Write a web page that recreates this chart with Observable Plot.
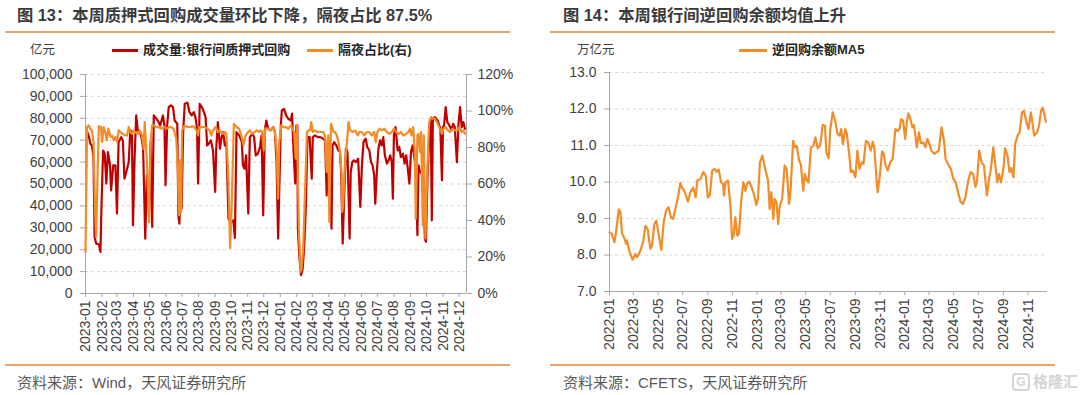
<!DOCTYPE html>
<html><head><meta charset="utf-8">
<script src="https://cdn.jsdelivr.net/npm/d3@7"></script>
<script src="https://cdn.jsdelivr.net/npm/@observablehq/plot@0.6"></script>
<style>
body{margin:0;background:#fff;font-family:"Liberation Sans","Noto Sans CJK SC",sans-serif;}
#wrap{position:relative;width:1080px;height:395px;overflow:hidden;background:#fff;}
.title{position:absolute;top:5px;line-height:20px;font-size:16.3px;font-weight:bold;color:#3b3b3b;white-space:nowrap;}
.rule{position:absolute;height:2px;background:#e6a56c;}
.unit{position:absolute;top:41px;line-height:18px;font-size:12.5px;color:#404040;white-space:nowrap;}
.legend{position:absolute;top:41px;line-height:18px;font-size:13px;font-weight:bold;color:#262626;white-space:nowrap;display:flex;align-items:center;}
.sw{display:inline-block;width:26px;height:3px;margin-right:5px;}
.src{position:absolute;top:374px;line-height:18px;font-size:15px;color:#595959;white-space:nowrap;}
.chart{position:absolute;top:40px;}
.wm{position:absolute;top:373px;left:1012px;font-size:15px;line-height:18px;color:#d4d4d4;font-weight:bold;white-space:nowrap;display:flex;align-items:center;}
.wm b{display:inline-block;border:2px solid #d4d4d4;border-radius:4px;width:14px;height:14px;line-height:14px;text-align:center;font-size:12px;margin-right:3px;}
</style></head>
<body><div id="wrap">
<div class="title" style="left:17px">图 13：本周质押式回购成交量环比下降，隔夜占比 87.5%</div>
<div class="rule" style="left:5px;width:505px;top:31px"></div>
<div class="unit" style="left:30px">亿元</div>
<div class="legend" style="left:112px"><span class="sw" style="background:#c00000"></span>成交量:银行间质押式回购</div>
<div class="legend" style="left:307px"><span class="sw" style="background:#f28c28"></span>隔夜占比(右)</div>
<div class="chart" id="left" style="left:0px"></div>
<div class="rule" style="left:5px;width:505px;top:364px"></div>
<div class="src" style="left:17px">资料来源：Wind，天风证券研究所</div>

<div class="title" style="left:563px">图 14：本周银行间逆回购余额均值上升</div>
<div class="rule" style="left:550px;width:505px;top:31px"></div>
<div class="unit" style="left:577px">万亿元</div>
<div class="legend" style="left:739px"><span class="sw" style="background:#f28c28;width:28px"></span>逆回购余额MA5</div>
<div class="chart" id="right" style="left:540px"></div>
<div class="rule" style="left:550px;width:505px;top:364px"></div>
<div class="src" style="left:563px">资料来源：CFETS，天风证券研究所</div>
<div class="wm"><b>G</b>格隆汇</div>
</div>
<script>
// ---- Left chart data ----
const leftTicks = [0,10000,20000,30000,40000,50000,60000,70000,80000,90000,100000];
const rightPctTicks = [0,20,40,60,80,100,120];
const leftMonths = ["2023-01","2023-02","2023-03","2023-04","2023-05","2023-06","2023-07","2023-08","2023-09","2023-10","2023-11","2023-12","2024-01","2024-02","2024-03","2024-04","2024-05","2024-06","2024-07","2024-08","2024-09","2024-10","2024-11","2024-12"];
const leftRange = ["2023-01-01","2024-12-15"];

const volume = [
["2023-01-04",73700],["2023-01-07",72200],["2023-01-10",68400],["2023-01-13",67600],["2023-01-16",62300],["2023-01-18",25800],["2023-01-21",22800],["2023-01-26",22500],["2023-01-29",19000],["2023-01-31",40000],
["2023-02-03",65300],["2023-02-06",63800],["2023-02-09",50200],["2023-02-12",64600],["2023-02-16",58500],["2023-02-18",47100],["2023-02-22",58500],["2023-02-26",58500],["2023-03-01",36500],["2023-03-04",69100],
["2023-03-09",71400],["2023-03-12",69900],["2023-03-15",52400],["2023-03-20",57000],["2023-03-23",60000],["2023-03-26",74500],["2023-03-29",73700],["2023-03-31",31200],["2023-04-03",61600],["2023-04-06",81300],
["2023-04-09",74500],["2023-04-13",73700],["2023-04-16",71400],["2023-04-19",66100],["2023-04-23",25000],["2023-04-26",54000],["2023-04-30",36500],["2023-05-03",69100],["2023-05-06",30400],["2023-05-09",81300],
["2023-05-14",79800],["2023-05-18",78300],["2023-05-21",76700],["2023-05-26",81300],["2023-05-29",76700],["2023-05-31",49400],["2023-06-03",76700],["2023-06-06",85100],["2023-06-10",85900],["2023-06-14",85100],
["2023-06-17",79000],["2023-06-22",77500],["2023-06-24",35700],["2023-06-26",31900],["2023-06-28",60000],["2023-06-30",38800],["2023-07-03",73700],["2023-07-06",86600],["2023-07-11",87100],["2023-07-15",82800],
["2023-07-19",81300],["2023-07-23",82800],["2023-07-26",80500],["2023-07-29",75200],["2023-07-31",50200],["2023-08-03",86600],["2023-08-07",85100],["2023-08-11",82800],["2023-08-14",80500],["2023-08-17",67600],
["2023-08-20",68400],["2023-08-24",69900],["2023-08-28",65300],["2023-09-01",46400],["2023-09-03",66100],["2023-09-06",78300],["2023-09-10",66100],["2023-09-13",71400],["2023-09-16",73700],["2023-09-19",67600],
["2023-09-22",69100],["2023-09-26",34200],["2023-09-30",32700],["2023-10-05",33400],["2023-10-08",25400],["2023-10-11",73700],["2023-10-16",72200],["2023-10-21",69100],["2023-10-23",58500],["2023-10-26",57000],
["2023-10-29",63100],["2023-11-02",36500],["2023-11-05",71400],["2023-11-10",72900],["2023-11-13",71400],["2023-11-16",63100],["2023-11-20",63800],["2023-11-24",66900],["2023-11-27",72200],["2023-11-30",35700],
["2023-12-03",74500],["2023-12-06",79000],["2023-12-09",75200],["2023-12-14",74500],["2023-12-19",76000],["2023-12-22",73700],["2023-12-25",60000],["2023-12-28",25100],["2024-01-02",76700],["2024-01-04",83600],
["2024-01-08",84300],["2024-01-12",81300],["2024-01-16",79800],["2024-01-21",79000],["2024-01-23",82100],["2024-01-26",64600],["2024-01-29",50200],["2024-01-31",76700],["2024-02-02",76700],["2024-02-03",29600],
["2024-02-06",16000],["2024-02-09",8400],["2024-02-12",11400],["2024-02-15",22000],["2024-02-18",40300],["2024-02-21",71400],["2024-02-25",71400],["2024-02-29",52400],["2024-03-02",71400],["2024-03-06",72200],
["2024-03-11",71400],["2024-03-16",71400],["2024-03-21",70700],["2024-03-25",69900],["2024-03-28",44800],["2024-03-31",69900],["2024-04-03",66100],["2024-04-06",29600],["2024-04-08",67600],["2024-04-11",69100],
["2024-04-15",67600],["2024-04-19",65300],["2024-04-22",64600],["2024-04-24",55500],["2024-04-27",22800],["2024-04-30",46400],["2024-05-03",66100],["2024-05-06",64600],["2024-05-10",25100],["2024-05-12",55500],
["2024-05-15",60000],["2024-05-18",60800],["2024-05-22",60000],["2024-05-26",61600],["2024-05-30",39500],["2024-06-02",58500],["2024-06-05",69100],["2024-06-09",70700],["2024-06-12",66900],["2024-06-16",65300],
["2024-06-19",60000],["2024-06-22",58500],["2024-06-25",54000],["2024-06-27",41000],["2024-06-30",55500],["2024-07-03",66100],["2024-07-06",69900],["2024-07-09",67600],["2024-07-12",71400],["2024-07-15",63100],
["2024-07-19",59300],["2024-07-22",60800],["2024-07-25",63100],["2024-07-28",60000],["2024-07-30",43300],["2024-08-01",72200],["2024-08-04",76000],["2024-08-08",65300],["2024-08-11",66900],["2024-08-14",62300],
["2024-08-18",63800],["2024-08-21",59300],["2024-08-24",63100],["2024-08-27",57000],["2024-08-30",50200],["2024-09-02",64600],["2024-09-05",67600],["2024-09-09",60800],["2024-09-11",55500],["2024-09-14",26600],
["2024-09-16",58500],["2024-09-19",55500],["2024-09-22",54700],["2024-09-25",54000],["2024-09-28",25100],["2024-09-30",23600],["2024-10-03",54000],["2024-10-06",70700],["2024-10-09",79800],["2024-10-11",33400],
["2024-10-13",79800],["2024-10-17",80500],["2024-10-22",79000],["2024-10-27",75200],["2024-10-30",51700],["2024-11-01",76000],["2024-11-03",76700],["2024-11-06",85100],["2024-11-09",78300],["2024-11-13",76700],
["2024-11-17",74500],["2024-11-20",77500],["2024-11-23",76000],["2024-11-27",60000],["2024-11-30",77500],["2024-12-03",85100],["2024-12-06",76000],["2024-12-09",78300],["2024-12-12",75200]
];

const overnight = [
["2023-01-01",22.8],["2023-01-04",91.2],["2023-01-07",92.1],["2023-01-10",90.3],["2023-01-13",89.4],["2023-01-16",83],["2023-01-19",44.7],["2023-01-21",31],["2023-01-24",70],["2023-01-26",91.7],
["2023-01-30",91.2],["2023-02-01",83],["2023-02-04",91.2],["2023-02-07",88.5],["2023-02-10",83.9],["2023-02-13",90.3],["2023-02-17",85.7],["2023-02-20",86.6],["2023-02-23",83.9],["2023-02-26",85.7],
["2023-03-01",83],["2023-03-04",89.4],["2023-03-07",88.5],["2023-03-12",87.5],["2023-03-17",86.6],["2023-03-20",86.6],["2023-03-23",91.2],["2023-03-26",88.5],["2023-03-29",87.5],["2023-04-01",89.4],
["2023-04-04",88.5],["2023-04-09",87.5],["2023-04-13",89.4],["2023-04-17",86.6],["2023-04-20",79.3],["2023-04-22",93.9],["2023-04-25",77.5],["2023-04-26",73.9],["2023-04-30",39],["2023-05-03",83],
["2023-05-06",92.1],["2023-05-09",92.1],["2023-05-14",91.2],["2023-05-18",91.2],["2023-05-23",90.3],["2023-05-28",91.2],["2023-06-02",90.3],["2023-06-06",91.2],["2023-06-10",91.2],["2023-06-15",90.3],
["2023-06-20",84.8],["2023-06-23",68.4],["2023-06-25",42.9],["2023-06-27",72.9],["2023-06-29",44.7],["2023-07-01",89.4],["2023-07-06",92.1],["2023-07-11",91.2],["2023-07-16",91.2],["2023-07-20",91.7],
["2023-07-24",91.2],["2023-07-28",89.4],["2023-07-31",86.6],["2023-08-02",91.2],["2023-08-08",91.2],["2023-08-12",91.2],["2023-08-17",90.3],["2023-08-22",89.4],["2023-08-25",86.6],["2023-08-28",89.4],
["2023-09-02",91.2],["2023-09-06",88.5],["2023-09-10",89.4],["2023-09-14",87.5],["2023-09-19",88.5],["2023-09-22",87.5],["2023-09-26",61.1],["2023-09-29",25],["2023-10-01",39.2],["2023-10-04",70.2],
["2023-10-06",93],["2023-10-11",91.2],["2023-10-16",90.3],["2023-10-20",86.6],["2023-10-24",81.2],["2023-10-28",86.6],["2023-11-02",88.5],["2023-11-05",89.4],["2023-11-10",87.5],["2023-11-14",88.5],
["2023-11-18",89.4],["2023-11-22",88.5],["2023-11-25",89.4],["2023-11-28",88.5],["2023-12-01",78.4],["2023-12-04",90.3],["2023-12-08",90.3],["2023-12-14",89.4],["2023-12-19",91.2],["2023-12-22",88.5],
["2023-12-25",79.3],["2023-12-28",52],["2023-12-30",83],["2024-01-03",92.1],["2024-01-07",91.2],["2024-01-11",91.2],["2024-01-16",90.3],["2024-01-21",92.1],["2024-01-24",90.3],["2024-01-27",88.5],
["2024-01-30",73.9],["2024-02-01",92.1],["2024-02-03",66.6],["2024-02-05",33.7],["2024-02-08",11.9],["2024-02-10",13.7],["2024-02-13",24.6],["2024-02-16",52],["2024-02-20",88.5],["2024-02-23",89.4],
["2024-02-26",89.4],["2024-02-28",93.9],["2024-03-02",88.5],["2024-03-06",89.4],["2024-03-11",88.5],["2024-03-16",88.5],["2024-03-21",88.5],["2024-03-25",86.6],["2024-03-28",66.6],["2024-03-31",86.6],
["2024-04-02",39.2],["2024-04-05",93],["2024-04-07",91.2],["2024-04-10",88.5],["2024-04-13",88.5],["2024-04-16",86.6],["2024-04-19",83],["2024-04-22",77.5],["2024-04-25",64.7],["2024-04-26",44.7],
["2024-04-28",48.3],["2024-05-01",70.2],["2024-05-03",75.7],["2024-05-06",86.6],["2024-05-08",93.9],["2024-05-11",89.4],["2024-05-16",88.5],["2024-05-20",89.4],["2024-05-25",86.6],["2024-05-28",88.5],
["2024-06-02",88.5],["2024-06-06",86.6],["2024-06-11",88.5],["2024-06-16",88.5],["2024-06-20",86.6],["2024-06-25",88.5],["2024-06-28",83],["2024-07-01",88.5],["2024-07-05",90.3],["2024-07-09",89.4],
["2024-07-14",90.3],["2024-07-19",88.5],["2024-07-24",87.5],["2024-07-28",88.5],["2024-08-01",90.3],["2024-08-05",88.5],["2024-08-10",87.5],["2024-08-14",88.5],["2024-08-19",86.6],["2024-08-24",87.5],
["2024-08-28",88.5],["2024-08-31",90.3],["2024-09-03",86.6],["2024-09-06",91.2],["2024-09-09",79.3],["2024-09-11",41],["2024-09-14",86.6],["2024-09-16",87.5],["2024-09-19",77.5],["2024-09-21",88.5],
["2024-09-24",37.4],["2024-09-26",86.6],["2024-09-29",30.1],["2024-10-01",52],["2024-10-04",79.3],["2024-10-06",93.9],["2024-10-10",96.7],["2024-10-13",95.8],["2024-10-17",95.8],["2024-10-22",93],
["2024-10-27",89.4],["2024-10-30",87.5],["2024-11-02",90.3],["2024-11-06",91.2],["2024-11-10",89.4],["2024-11-14",88.5],["2024-11-19",90.3],["2024-11-23",89.4],["2024-11-28",89.4],["2024-12-02",91.2],
["2024-12-06",88.5],["2024-12-09",89.4],["2024-12-12",87.5]
];

// ---- Right chart data ----
const repoTicks = [7,8,9,10,11,12,13];
const rightMonths = ["2022-01","2022-03","2022-05","2022-07","2022-09","2022-11","2023-01","2023-03","2023-05","2023-07","2023-09","2023-11","2024-01","2024-03","2024-05","2024-07","2024-09","2024-11"];
const rightRange = ["2022-01-01","2024-12-19"];
const repoMA5 = [
["2022-01-01",8.62],["2022-01-07",8.58],["2022-01-13",8.35],["2022-01-17",8.6],["2022-01-24",9.25],["2022-01-28",9.17],["2022-02-01",8.58],["2022-02-07",8.45],["2022-02-11",8.3],["2022-02-13",8.4],
["2022-02-20",8.08],["2022-02-27",7.87],["2022-03-06",8.03],["2022-03-10",7.94],["2022-03-17",8.08],["2022-03-25",8.35],["2022-03-31",8.8],["2022-04-05",8.72],["2022-04-12",8.17],["2022-04-16",8.26],
["2022-04-22",8.85],["2022-04-27",8.94],["2022-05-03",8.53],["2022-05-09",8.14],["2022-05-15",8.9],["2022-05-21",9.22],["2022-05-27",9.31],["2022-06-02",9.03],["2022-06-07",8.99],["2022-06-13",9.26],
["2022-06-20",9.63],["2022-06-25",9.97],["2022-06-29",9.85],["2022-07-05",9.76],["2022-07-14",9.46],["2022-07-20",9.72],["2022-07-27",9.85],["2022-08-02",9.58],["2022-08-06",10.04],["2022-08-14",10.08],
["2022-08-21",10.28],["2022-08-27",10.17],["2022-09-01",9.58],["2022-09-06",9.63],["2022-09-12",10.31],["2022-09-18",10.36],["2022-09-23",10.28],["2022-09-28",10.34],["2022-10-04",9.99],["2022-10-09",9.95],
["2022-10-11",9.63],["2022-10-15",9.99],["2022-10-21",10.04],["2022-10-27",9.35],["2022-10-31",8.44],["2022-11-04",8.53],["2022-11-08",9.03],["2022-11-13",8.53],["2022-11-17",8.58],["2022-11-23",9.54],
["2022-11-28",9.99],["2022-12-03",9.76],["2022-12-07",9.95],["2022-12-12",10.01],["2022-12-17",9.9],["2022-12-24",9.67],["2022-12-30",9.37],["2023-01-03",9.54],["2023-01-08",10.54],["2023-01-14",10.72],
["2023-01-19",10.45],["2023-01-23",10.27],["2023-01-28",10.04],["2023-02-01",9.26],["2023-02-05",9.72],["2023-02-10",8.99],["2023-02-13",9.54],["2023-02-18",9.44],["2023-02-22",8.85],["2023-02-26",9.35],
["2023-03-04",9.54],["2023-03-10",10.45],["2023-03-15",10.36],["2023-03-21",9.4],["2023-03-25",9.81],["2023-03-31",11.13],["2023-04-04",10.95],["2023-04-09",10.99],["2023-04-15",10.58],["2023-04-19",10.49],
["2023-04-25",9.76],["2023-04-29",10.22],["2023-05-04",10.04],["2023-05-08",9.99],["2023-05-14",10.95],["2023-05-20",10.99],["2023-05-25",11.22],["2023-05-31",10.92],["2023-06-06",11.01],["2023-06-12",11.56],
["2023-06-18",11.54],["2023-06-21",10.81],["2023-06-27",10.65],["2023-07-01",11.45],["2023-07-07",11.91],["2023-07-13",11.68],["2023-07-19",11.31],["2023-07-24",11.27],["2023-07-28",11.45],["2023-08-01",11.04],
["2023-08-07",11.45],["2023-08-11",11.31],["2023-08-17",10.72],["2023-08-21",10.27],["2023-08-26",10.31],["2023-09-01",10.13],["2023-09-06",10.86],["2023-09-11",10.36],["2023-09-17",10.54],["2023-09-21",10.49],
["2023-09-27",11.13],["2023-10-03",11.08],["2023-10-09",10.86],["2023-10-14",11.1],["2023-10-18",10.9],["2023-10-22",10.27],["2023-10-26",9.72],["2023-10-31",10.13],["2023-11-06",10.84],["2023-11-10",10.77],
["2023-11-15",10.45],["2023-11-20",10.31],["2023-11-26",10.54],["2023-12-02",10.63],["2023-12-09",11.45],["2023-12-14",11.4],["2023-12-19",11.45],["2023-12-23",11.72],["2023-12-28",11.68],["2024-01-02",11.18],
["2024-01-06",11.63],["2024-01-10",11.88],["2024-01-14",11.77],["2024-01-20",11.5],["2024-01-24",11.56],["2024-01-31",10.95],["2024-02-05",11.36],["2024-02-10",11.07],["2024-02-16",11.08],["2024-02-21",10.95],
["2024-02-26",11.18],["2024-03-01",11.08],["2024-03-07",10.86],["2024-03-14",10.77],["2024-03-19",10.81],["2024-03-25",10.86],["2024-04-01",11.5],["2024-04-07",11.13],["2024-04-11",10.63],["2024-04-17",10.49],
["2024-04-24",10.36],["2024-04-30",10.09],["2024-05-06",9.99],["2024-05-12",9.72],["2024-05-18",9.46],["2024-05-24",9.4],["2024-05-30",9.58],["2024-06-06",10.04],["2024-06-12",10.27],["2024-06-18",10.22],
["2024-06-24",9.86],["2024-06-28",10.04],["2024-07-03",10.86],["2024-07-09",10.54],["2024-07-15",10.45],["2024-07-22",9.63],["2024-07-27",10.04],["2024-08-01",10.36],["2024-08-07",10.95],["2024-08-13",10.36],
["2024-08-17",9.99],["2024-08-21",10.22],["2024-08-26",9.99],["2024-09-01",10.36],["2024-09-05",10.92],["2024-09-11",10.72],["2024-09-16",10.27],["2024-09-20",10.38],["2024-09-26",10.13],["2024-09-30",11.04],
["2024-10-06",11.27],["2024-10-11",11.36],["2024-10-17",11.91],["2024-10-22",11.95],["2024-10-27",11.68],["2024-11-02",11.45],["2024-11-08",11.91],["2024-11-12",11.59],["2024-11-16",11.27],["2024-11-23",11.36],
["2024-11-28",11.54],["2024-12-03",11.95],["2024-12-07",12.04],["2024-12-11",11.86],["2024-12-15",11.65]
];

// ---- Drawing ----
const RED = "#c00000", ORANGE = "#f28c28", AXIS = "#a6a6a6", GRID = "#d6d6d6", TXT = "#404040";
const font = {fontFamily: '"Liberation Sans", Arial, sans-serif', fontSize: "14px", color: TXT, background: "transparent", overflow: "visible"};
const toDate = s => new Date(s);
const pctToY = p => p / 120 * 100000;

const lx0 = toDate(leftRange[0]), lx1 = toDate(leftRange[1]);
const left = Plot.plot({
  width: 540, height: 320,
  marginTop: 34, marginBottom: 67, marginLeft: 85, marginRight: 74,
  style: font,
  x: {type: "utc", domain: [lx0, lx1]},
  y: {domain: [0, 100000]},
  marks: [
    Plot.gridY(leftTicks, {stroke: GRID, strokeOpacity: 1, strokeDasharray: "3,3"}),
    Plot.ruleY([0], {stroke: AXIS}),
    Plot.ruleX([lx0], {stroke: AXIS}),
    Plot.ruleX([lx1], {stroke: AXIS}),
    Plot.axisY(leftTicks, {anchor: "left", label: null, tickFormat: d3.format(","), tickSize: 5, tickPadding: 8, stroke: AXIS, fill: TXT}),
    Plot.axisY(rightPctTicks.map(pctToY), {anchor: "right", label: null, tickFormat: v => Math.round(v * 120 / 100000) + "%", tickSize: 5, tickPadding: 6, stroke: AXIS, fill: TXT}),
    Plot.axisX(leftMonths.map(toDate), {anchor: "bottom", label: null, tickRotate: -90, tickFormat: d3.utcFormat("%Y-%m"), tickSize: 4, tickPadding: 3, stroke: AXIS, fill: TXT}),
    Plot.lineY(volume, {x: d => toDate(d[0]), y: d => d[1], stroke: RED, strokeWidth: 2.2}),
    Plot.lineY(overnight, {x: d => toDate(d[0]), y: d => pctToY(d[1]), stroke: ORANGE, strokeWidth: 2.2})
  ]
});
document.getElementById("left").append(left);

const rx0 = toDate(rightRange[0]), rx1 = toDate(rightRange[1]);
const right = Plot.plot({
  width: 540, height: 320,
  marginTop: 32, marginBottom: 69, marginLeft: 69, marginRight: 33,
  style: font,
  x: {type: "utc", domain: [rx0, rx1]},
  y: {domain: [7, 13]},
  marks: [
    Plot.gridY(repoTicks, {stroke: GRID, strokeOpacity: 1, strokeDasharray: "3,3"}),
    Plot.ruleY([7], {stroke: AXIS}),
    Plot.ruleX([rx0], {stroke: AXIS}),
    Plot.axisY(repoTicks, {anchor: "left", label: null, tickFormat: d3.format(".1f"), tickSize: 5, tickPadding: 8, stroke: AXIS, fill: TXT}),
    Plot.axisX(rightMonths.map(toDate), {anchor: "bottom", label: null, tickRotate: -90, tickFormat: d3.utcFormat("%Y-%m"), tickSize: 4, tickPadding: 3, stroke: AXIS, fill: TXT}),
    Plot.lineY(repoMA5, {x: d => toDate(d[0]), y: d => d[1], stroke: ORANGE, strokeWidth: 2.2})
  ]
});
document.getElementById("right").append(right);
</script>
</body></html>
